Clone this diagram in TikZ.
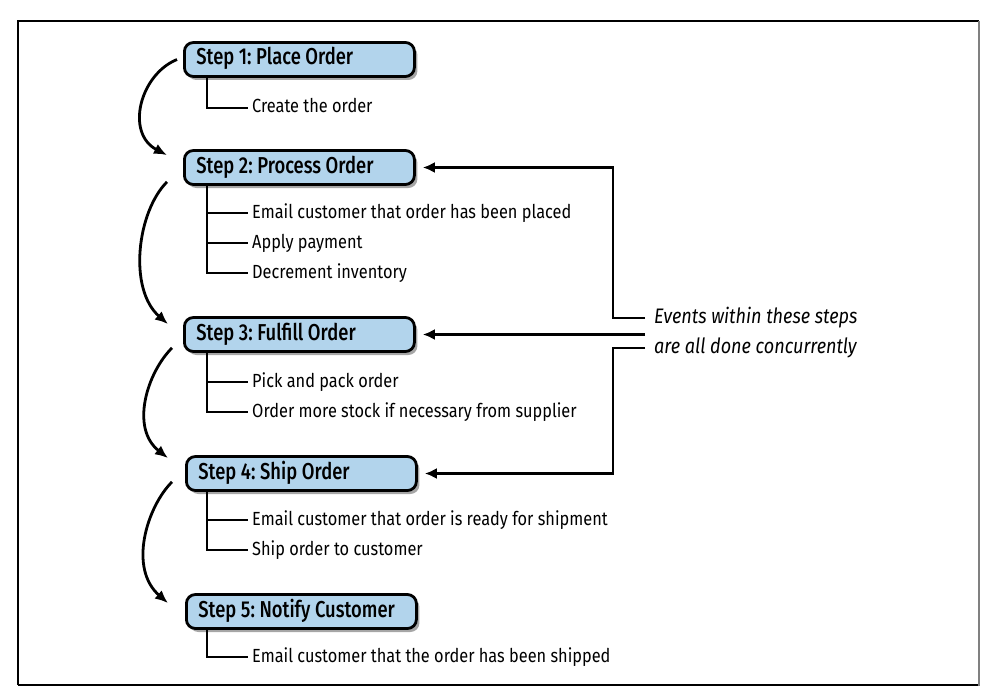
\documentclass[tikz,border=0pt]{standalone}
\usepackage{fontspec}
\setmainfont{Fira Sans}[FakeStretch=0.86]
\newfontfamily\titlefont{Fira Sans}[FakeStretch=0.80, UprightFont=* Medium]
\usetikzlibrary{arrows.meta,shadows,calc}
\definecolor{boxblue}{RGB}{178,212,236}
\newcommand\steptxt[1]{\makebox[206pt][l]{#1}}
\begin{document}
\begin{tikzpicture}[x=1pt,y=-1pt,
  stepbox/.style={draw, line width=2.8pt, rounded corners=9pt, fill=boxblue,
    minimum height=34pt, minimum width=230pt, inner xsep=12pt, inner ysep=0pt,
    text height=16pt, text depth=5pt,
    font=\titlefont\fontsize{23}{26}\selectfont\frenchspacing, anchor=west,
    drop shadow={shadow xshift=3pt, shadow yshift=-3.5pt, fill=black, opacity=.35}},
  item/.style={anchor=west, inner sep=4pt, text height=14pt, text depth=4pt, font=\fontsize{19}{22}\selectfont\frenchspacing},
  callout/.style={anchor=west, inner sep=4pt, text height=14pt, text depth=4pt, font=\itshape\fontsize{21}{24}\selectfont\frenchspacing},
  tree/.style={line width=2.8pt},
  arr/.style={line width=2.6pt, -{Latex[length=12pt,width=11pt]}},
  curv/.style={line width=2.8pt, -{Latex[length=13pt,width=11pt]}},
]
\useasboundingbox (0,0) rectangle (996,698);
\draw[line width=1.2pt] (18,685) -- (18,21) -- (979,21);
\draw[line width=1.6pt] (18,685) -- (979,685);
\draw[line width=2.4pt, black!50] (979,21) -- (979,686);

% step boxes
\node[stepbox] (s1) at (183,59.5) {\steptxt{Step 1: Place Order}};
\node[stepbox] (s2) at (183,167.5) {\steptxt{Step 2: Process Order}};
\node[stepbox] (s3) at (183,334.5) {\steptxt{Step 3: Fulfill Order}};
\node[stepbox] (s4) at (185,473.5) {\steptxt{Step 4: Ship Order}};
\node[stepbox] (s5) at (185,611.5) {\steptxt{Step 5: Notify Customer}};

% items
\node[item] (i11) at (248,108) {Create the order};
\node[item] (i21) at (248,213) {Email customer that order has been placed};
\node[item] (i22) at (248,243) {Apply payment};
\node[item] (i23) at (248,273) {Decrement inventory};
\node[item] (i31) at (248,382) {Pick and pack order};
\node[item] (i32) at (248,412) {Order more stock if necessary from supplier};
\node[item] (i41) at (248,520) {Email customer that order is ready for shipment};
\node[item] (i42) at (248,550) {Ship order to customer};
\node[item] (i51) at (248,657) {Email customer that the order has been shipped};

\draw[tree] ([xshift=24pt]s1.south west) |- (i11.west);
\draw[tree] ([xshift=24pt]s2.south west) |- (i21.west);
\draw[tree] ([xshift=24pt]s2.south west) |- (i22.west);
\draw[tree] ([xshift=24pt]s2.south west) |- (i23.west);
\draw[tree] ([xshift=24pt]s3.south west) |- (i31.west);
\draw[tree] ([xshift=24pt]s3.south west) |- (i32.west);
\draw[tree] ([xshift=22pt]s4.south west) |- (i41.west);
\draw[tree] ([xshift=22pt]s4.south west) |- (i42.west);
\draw[tree] ([xshift=22pt]s5.south west) |- (i51.west);

% curved step arrows
\coordinate (a1s) at ($(s1.west)+(-6,0)$);
\coordinate (a1e) at ($(s2.north west)+(-16,6)$);
\coordinate (a2s) at ($(s2.south west)+(-16,-4)$);
\coordinate (a2e) at ($(s3.north west)+(-15,8)$);
\coordinate (a3s) at ($(s3.south west)+(-11,-5)$);
\coordinate (a3e) at ($(s4.north west)+(-17,3)$);
\coordinate (a4s) at ($(s4.south west)+(-13,-10)$);
\coordinate (a4e) at ($(s5.north west)+(-17,10)$);
\draw[curv] (a1s) .. controls +(-37,15) and +(-42,-22) .. (a1e);
\draw[curv] (a2s) .. controls +(-30,30) and +(-40,-35) .. (a2e);
\draw[curv] (a3s) .. controls +(-25,25) and +(-38,-30) .. (a3e);
\draw[curv] (a4s) .. controls +(-25,25) and +(-40,-35) .. (a4e);

% callout
\node[callout] (ev) at (650,318) {Events within these steps};
\node[callout] (co) at (650,348) {are all done concurrently};
\coordinate (m3) at (ev.west |- s3.east);
\draw[arr] ([xshift=-5pt]ev.west) -- ++(-32,0) |- ([xshift=7pt]s2.east);
\draw[arr] ([xshift=-5pt]m3) -- ([xshift=7pt]s3.east);
\draw[arr] ([xshift=-5pt]co.west) -- ++(-32,0) |- ([xshift=7pt]s4.east);
\end{tikzpicture}
\end{document}
